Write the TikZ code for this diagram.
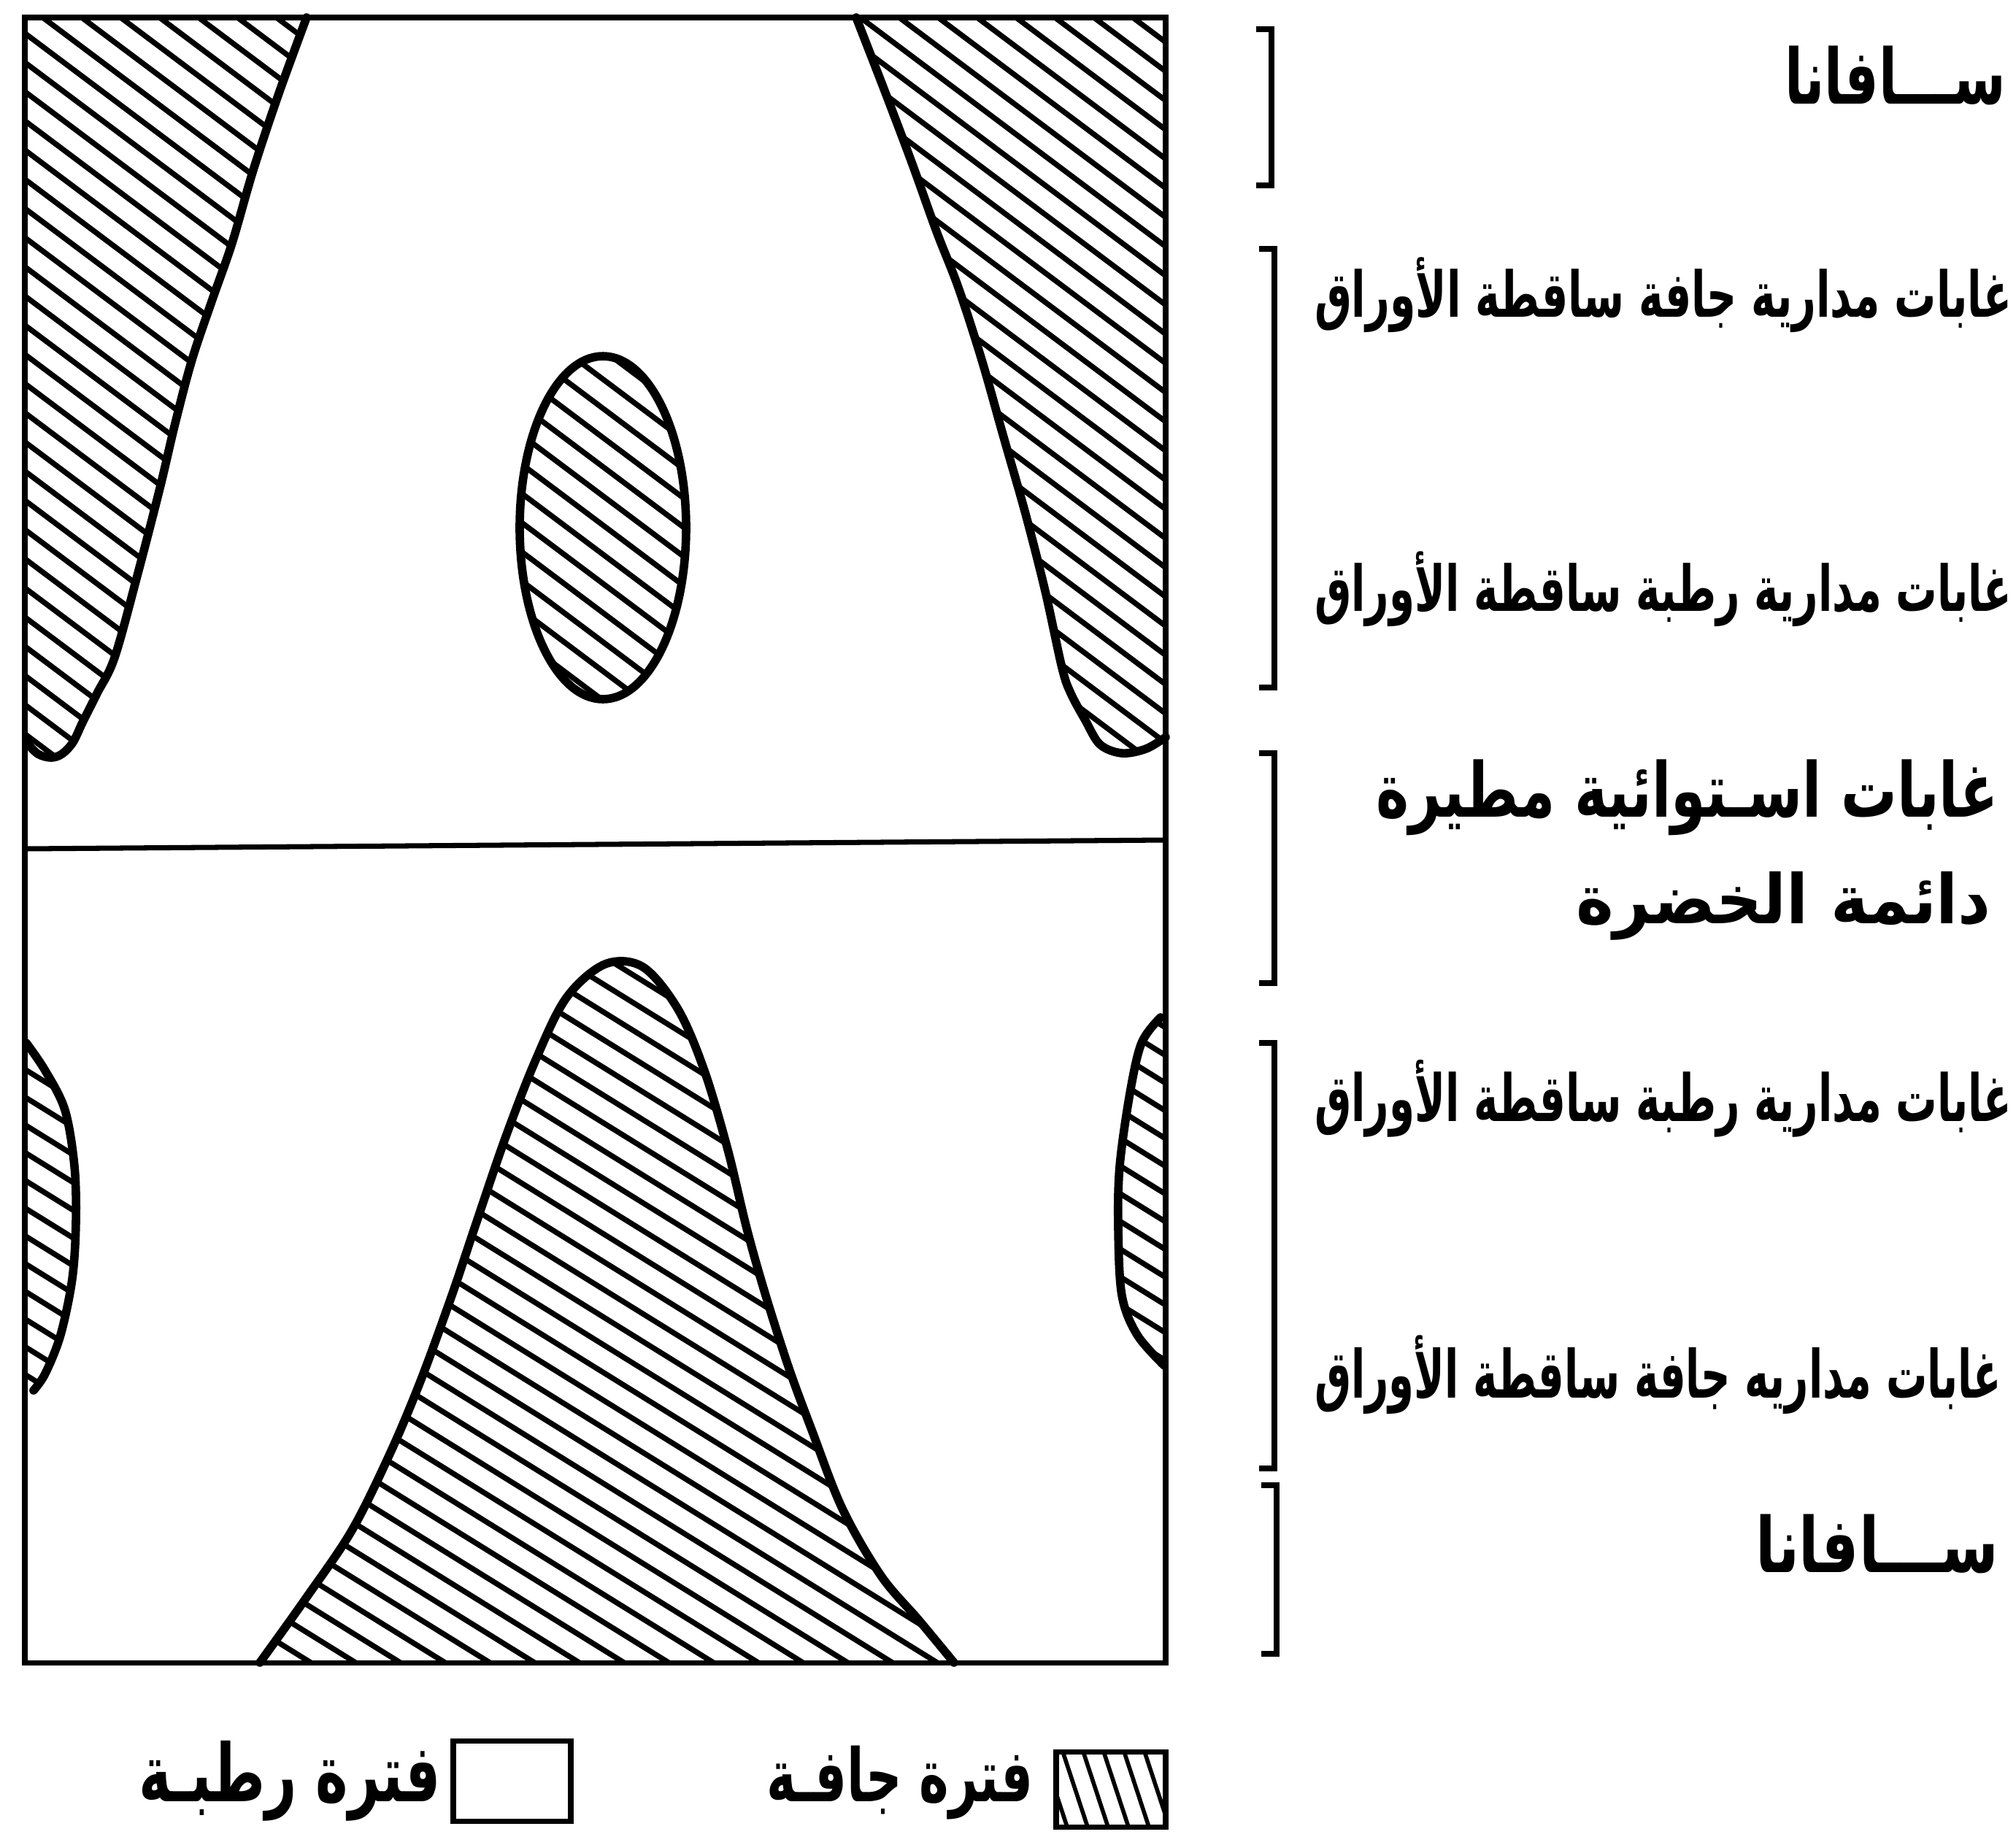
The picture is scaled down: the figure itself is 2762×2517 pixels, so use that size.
\documentclass[tikz,border=0pt]{standalone}
\usepackage{fontspec}
\usepackage{graphicx}
\TeXXeTstate=1
\newfontfamily\arabicfont[Script=Arabic]{DejaVu Sans}
\newlength\pxu
\setlength\pxu{0.01cm}
\newcommand\fitar[3]{\resizebox*{#1\pxu}{#2\pxu}{\arabicfont\bfseries #3}}
\begin{document}
\begin{tikzpicture}[x=0.01cm,y=-0.01cm,
  framel/.style={line width=2pt},
  blobline/.style={line width=3.3pt,line join=round,line cap=round},
  hatchln/.style={line width=2.1pt},
  brk/.style={line width=2.2pt},
  lbl/.style={anchor=north west,inner sep=0pt,outer sep=0pt}]
\useasboundingbox (0,0) rectangle (2762,2517);
\fill[white] (0,0) rectangle (2762,2517);

% ---------- top half: dry season hatching ----------
\begin{scope}
\clip (34,24) -- plot[smooth,tension=0.55] coordinates {(420,24) (382,128) (347,233) (318,333) (290,413) (263,493) (240,580) (219,669) (188,789) (157,901) (133,950) (113,990) (100,1017) (85,1033) (70,1038) (52,1033) (36,1017)} -- cycle;
\foreach \c in {-1300,-1260,...,1100} \draw[hatchln] (0,\c) -- (1700,\c+1275);
\end{scope}
\draw[blobline] plot[smooth,tension=0.55] coordinates {(420,24) (382,128) (347,233) (318,333) (290,413) (263,493) (240,580) (219,669) (188,789) (157,901) (133,950) (113,990) (100,1017) (85,1033) (70,1038) (52,1033) (36,1017)};

\begin{scope}
\clip (1597,24) -- plot[smooth,tension=0.55] coordinates {(1173,24) (1213,127) (1250,225) (1283,317) (1313,394) (1345,493) (1375,599) (1405,704) (1432,810) (1455,915) (1467,950) (1487,987) (1507,1020) (1537,1032) (1570,1026) (1597,1010)} -- cycle;
\foreach \c in {-1300,-1260,...,1100} \draw[hatchln] (0,\c) -- (1700,\c+1275);
\end{scope}
\draw[blobline] plot[smooth,tension=0.55] coordinates {(1173,24) (1213,127) (1250,225) (1283,317) (1313,394) (1345,493) (1375,599) (1405,704) (1432,810) (1455,915) (1467,950) (1487,987) (1507,1020) (1537,1032) (1570,1026) (1597,1010)};

\begin{scope}
\clip (826,723) ellipse [x radius=114, y radius=235];
\foreach \c in {-1300,-1260,...,1100} \draw[hatchln] (0,\c) -- (1700,\c+1275);
\end{scope}
\draw[blobline] (826,723) ellipse [x radius=114, y radius=235];

% ---------- bottom half ----------
\begin{scope}
\clip plot[smooth,tension=0.55] coordinates {(356,2278) (419,2190) (482,2097) (535,1990) (577,1890) (619,1775) (650,1683) (692,1560) (734,1452) (776,1367) (829,1321) (881,1325) (929,1383) (965,1467) (997,1575) (1023,1683) (1049,1775) (1081,1875) (1112,1959) (1154,2067) (1207,2159) (1259,2220) (1307,2278)} -- cycle;
\foreach \c in {380,418,...,2320} \draw[hatchln] (0,\c) -- (1700,\c+1054);
\end{scope}
\draw[blobline] plot[smooth,tension=0.55] coordinates {(356,2278) (419,2190) (482,2097) (535,1990) (577,1890) (619,1775) (650,1683) (692,1560) (734,1452) (776,1367) (829,1321) (881,1325) (929,1383) (965,1467) (997,1575) (1023,1683) (1049,1775) (1081,1875) (1112,1959) (1154,2067) (1207,2159) (1259,2220) (1307,2278)};

\begin{scope}
\clip plot[smooth,tension=0.55] coordinates {(36,1429) (62,1467) (89,1521) (102,1598) (104,1675) (99,1752) (83,1829) (62,1882) (46,1905)} -- (34,1905) -- cycle;
\foreach \c in {380,418,...,2320} \draw[hatchln] (0,\c) -- (1700,\c+1054);
\end{scope}
\draw[blobline] plot[smooth,tension=0.55] coordinates {(36,1429) (62,1467) (89,1521) (102,1598) (104,1675) (99,1752) (83,1829) (62,1882) (46,1905)};

\begin{scope}
\clip plot[smooth,tension=0.55] coordinates {(1590,1394) (1564,1429) (1548,1498) (1534,1598) (1532,1683) (1537,1775) (1558,1829) (1595,1871)} -- (1597,1394) -- cycle;
\foreach \c in {380,418,...,2320} \draw[hatchln] (0,\c) -- (1700,\c+1054);
\end{scope}
\draw[blobline] plot[smooth,tension=0.55] coordinates {(1590,1394) (1564,1429) (1548,1498) (1534,1598) (1532,1683) (1537,1775) (1558,1829) (1595,1871)};

% ---------- frame ----------
\draw[framel] (34,24) rectangle (1597,2278);
\draw[framel] (34,1163) -- (1597,1151);

% ---------- brackets ----------
\draw[brk] (1721,40) -- (1742,40) -- (1742,254) -- (1721,254);
\draw[brk] (1725,341) -- (1746,341) -- (1746,942) -- (1725,942);
\draw[brk] (1725,1032) -- (1746,1032) -- (1746,1347) -- (1725,1347);
\draw[brk] (1725,1429) -- (1746,1429) -- (1746,2012) -- (1725,2012);
\draw[brk] (1728,2035) -- (1749,2035) -- (1749,2266) -- (1728,2266);

% ---------- labels ----------
\node[lbl] (t1) at (2445,63) {\fitar{303}{81}{\beginR ســـافانا\endR}};
\node[lbl] (t2) at (1801,353) {\fitar{955}{103}{\beginR غابات مدارية جافة ساقطة الأوراق\endR}};
\node[lbl] (t3) at (1801,756) {\fitar{955}{103}{\beginR غابات مدارية رطبة ساقطة الأوراق\endR}};
\node[lbl] (t4a) at (1885,1041) {\fitar{853}{104}{\beginR غابات اسـتوائية مطيرة\endR}};
\node[lbl] (t4b) at (2159,1194) {\fitar{569}{94}{\beginR دائمة الخضرة\endR}};
\node[lbl] (t5) at (1801,1452) {\fitar{955}{106}{\beginR غابات مدارية رطبة ساقطة الأوراق\endR}};
\node[lbl] (t6) at (1801,1830) {\fitar{941}{108}{\beginR غابات مداريه جافة ساقطة الأوراق\endR}};
\node[lbl] (t7) at (2405,2075) {\fitar{333}{81}{\beginR ســـافانا\endR}};

% ---------- legend ----------
\draw[framel] (621,2385) rectangle (782,2495);
\node[lbl] (lwet) at (190,2385) {\fitar{414}{110}{\beginR فترة رطبـة\endR}};
\begin{scope}
\clip (1447,2400) rectangle (1597,2503);
\foreach \x in {1400,1428,...,1620} \draw[line width=1.6pt] (\x,2400) -- (\x+34,2503);
\end{scope}
\draw[framel] (1447,2400) rectangle (1597,2503);
\node[lbl] (ldry) at (1050,2392) {\fitar{366}{101}{\beginR فترة جافـة\endR}};
\end{tikzpicture}
\end{document}
